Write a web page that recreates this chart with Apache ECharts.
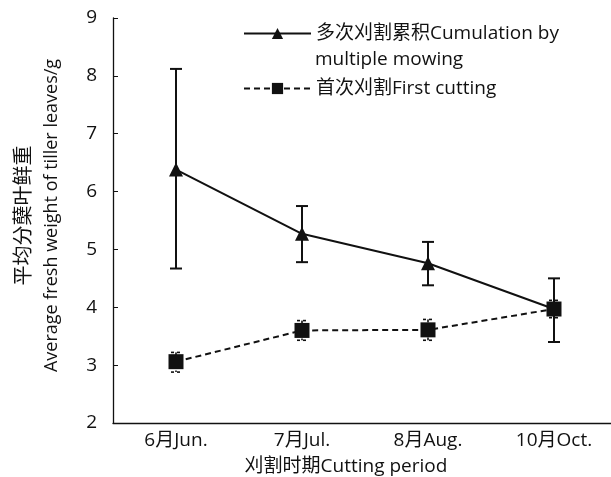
<!DOCTYPE html>
<html><head><meta charset="utf-8">
<script src="https://cdn.jsdelivr.net/npm/echarts@6/dist/echarts.min.js"></script>
<style>html,body{margin:0;padding:0;background:#fff}#c{width:611px;height:477px}</style>
</head><body><div id="c"></div>
<script>
const categories = ['6月Jun.', '7月Jul.', '8月Aug.', '10月Oct.'];
const cumulation = [6.38, 5.27, 4.76, 3.97];
const cumulationHigh = [8.12, 5.75, 5.13, 4.50];
const cumulationLow = [4.67, 4.78, 4.38, 3.40];
const first = [3.06, 3.60, 3.61, 3.97];
const firstHigh = [3.22, 3.77, 3.79, 4.12];
const firstLow = [2.88, 3.43, 3.43, 3.82];
const yTicks = [2, 3, 4, 5, 6, 7, 8, 9];
const nameCum = '多次刈割累积Cumulation by multiple mowing';
const nameFirst = '首次刈割First cutting';

const font = '"Open Sans", "Noto Sans CJK SC", sans-serif';
const ink = '#111';

function errRender(dashed, cap) {
  return function (params, api) {
    const x = api.value(0), hi = api.value(1), lo = api.value(2);
    const pH = api.coord([x, hi]), pL = api.coord([x, lo]);
    const st = { stroke: ink, lineWidth: dashed ? 1.6 : 2, lineDash: dashed ? [3, 3] : null };
    return { type: 'group', children: [
      { type: 'line', shape: { x1: pH[0], y1: pH[1], x2: pL[0], y2: pL[1] }, style: st },
      { type: 'line', shape: { x1: pH[0] - cap, y1: pH[1], x2: pH[0] + cap, y2: pH[1] }, style: st },
      { type: 'line', shape: { x1: pL[0] - cap, y1: pL[1], x2: pL[0] + cap, y2: pL[1] }, style: st }
    ]};
  };
}

const chart = echarts.init(document.getElementById('c'), null, { renderer: 'canvas' });
chart.setOption({
  animation: false,
  backgroundColor: '#fff',
  textStyle: { fontFamily: font, color: ink },
  grid: { left: 113, right: -6, top: 18, bottom: 54, outerBoundsMode: 'none', containLabel: false },
  legend: {
    orient: 'vertical', left: 238, top: 19, itemWidth: 67, itemHeight: 14, itemGap: 36,
    data: [nameCum, nameFirst],
    formatter: n => n === nameCum ? '多次刈割累积Cumulation by' : n,
    textStyle: { fontSize: 19, color: ink, fontFamily: font }
  },
  graphic: [{ type: 'text', left: 315, top: 50, style: { text: 'multiple mowing', fontSize: 19, fill: ink, fontFamily: font } }],
  xAxis: {
    type: 'category', data: categories, boundaryGap: true,
    axisLine: { lineStyle: { color: ink, width: 1.3 } },
    axisTick: { inside: true, length: 5, lineStyle: { color: ink } },
    axisLabel: { fontSize: 19, color: ink, margin: 8, fontFamily: font },
    name: '刈割时期Cutting period', nameLocation: 'middle', nameGap: 34,
    nameTextStyle: { fontSize: 19, color: ink, padding: [0, 38, 0, 0], fontFamily: font }
  },
  yAxis: {
    type: 'value', min: yTicks[0], max: yTicks[yTicks.length - 1], interval: 1,
    axisLine: { show: true, lineStyle: { color: ink, width: 1.3 } },
    axisTick: { show: true, inside: true, length: 5, lineStyle: { color: ink } },
    splitLine: { show: false },
    axisLabel: { fontSize: 19, color: ink, margin: 16, fontFamily: font },
    name: '{a|平均分蘖叶鲜重}\n{b|Average fresh weight of tiller leaves/g}', nameLocation: 'middle', nameRotate: 90, nameGap: 47,
    nameTextStyle: { color: ink, fontFamily: font, padding: [0, 0, 0, 10],
      rich: { a: { fontSize: 20, lineHeight: 28, fontFamily: font, color: ink }, b: { fontSize: 18, lineHeight: 28, fontFamily: font, color: ink } } }
  },
  series: [
    { type: 'custom', renderItem: errRender(false, 6), data: categories.map((c, i) => [i, cumulationHigh[i], cumulationLow[i]]), z: 1, silent: true },
    { type: 'custom', renderItem: errRender(true, 5), data: categories.map((c, i) => [i, firstHigh[i], firstLow[i]]), z: 1, silent: true },
    { name: nameCum, type: 'line', data: cumulation, symbol: 'triangle', symbolSize: 14,
      lineStyle: { color: ink, width: 2 }, itemStyle: { color: ink }, z: 3 },
    { name: nameFirst, type: 'line', data: first, symbol: 'rect', symbolSize: 15,
      lineStyle: { color: ink, width: 2, type: [6, 4] }, itemStyle: { color: ink }, z: 3 }
  ]
});
</script></body></html>
